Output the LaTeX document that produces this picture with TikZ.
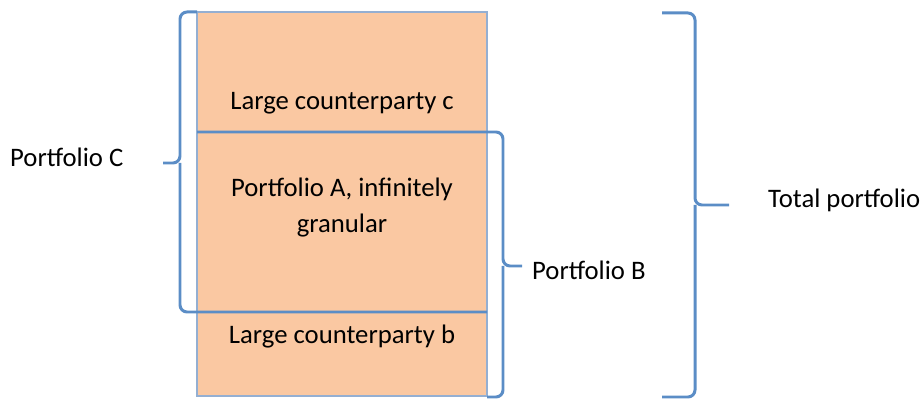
\documentclass[tikz,border=0pt]{standalone}
\usepackage{fontspec}
\setmainfont{Carlito}
\definecolor{peach}{HTML}{FAC8A2}
\definecolor{boxedge}{HTML}{94AFD2}
\definecolor{bracecol}{HTML}{5B8DC6}

\begin{document}
\begin{tikzpicture}[x=0.02cm,y=-0.02cm,
    every node/.style={font=\fontsize{15.2}{20.5}\selectfont},
    bracket/.style={bracecol, line width=1.7pt, rounded corners=4pt}]
        \useasboundingbox (0,0) rectangle (923,401);
        % the stack
        \fill[peach] (197,12) rectangle (487,396);
        \draw[boxedge, line width=1.1pt] (197,12) rectangle (487,396);
        % labels in the stack
        \node(c) at (342,103) {Large counterparty c};
        \node[align=center](a) at (342,208) {Portfolio A, infinitely\\granular};
        \node(b) at (342,337) {Large counterparty b};
        % labels outside
        \node[anchor=west](pc) at (4,157) {Portfolio C};
        \node[anchor=west](pb) at (526,270) {Portfolio B};
        \node[anchor=west](tp) at (762,200) {Total portfolio};
        % braces
        \coordinate(tipc) at (163,163);
        \coordinate(tipb) at (522,266);
        \coordinate(tipt) at (729,205);
        \draw[bracket] (197,12) -- (180,12) -- (180,163) -- (tipc);
        \draw[bracket] (180,163) -- (180,312) -- (487,312);
        \draw[bracket] (197,132) -- (503,132) -- (503,266) -- (tipb);
        \draw[bracket] (503,266) -- (503,397) -- (487,397);
        \draw[bracket] (662,13) -- (695,13) -- (695,205) -- (tipt);
        \draw[bracket] (695,205) -- (695,397) -- (662,397);
\end{tikzpicture}
\end{document}
